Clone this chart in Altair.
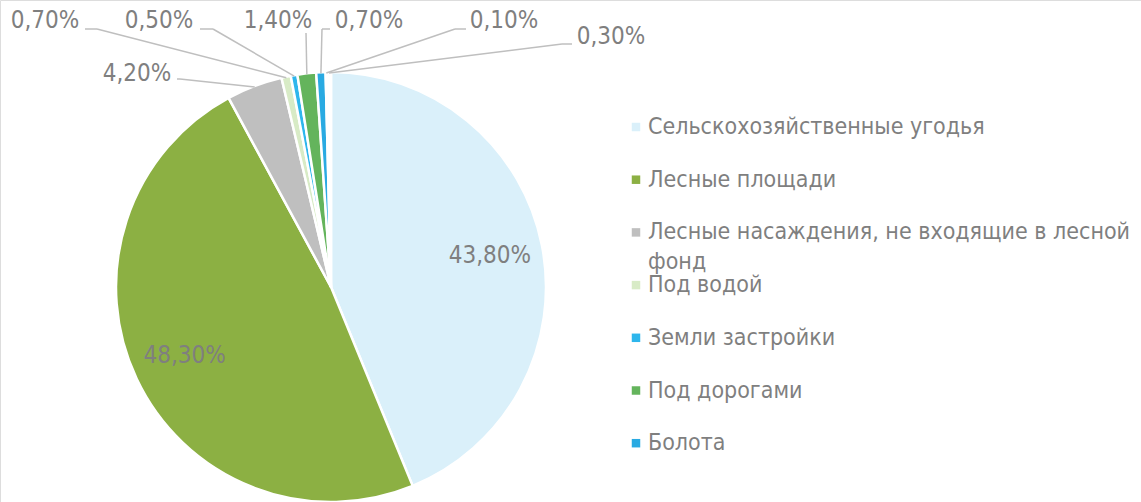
import math
import altair as alt
import pandas as pd

# ---------------- data ----------------
categories = [
    "Сельскохозяйственные угодья",
    "Лесные площади",
    "Лесные насаждения, не входящие в лесной фонд",
    "Под водой",
    "Земли застройки",
    "Под дорогами",
    "Болота",
    "Прочие земли",
    "Нарушенные земли",
]
values = [43.8, 48.3, 4.2, 0.7, 0.5, 1.4, 0.7, 0.1, 0.3]
colors = ["#DAF0FA", "#8CB043", "#BFBFBF", "#D8EBC6", "#2EB6EC",
          "#64B45C", "#29AAE2", "#FFFFFF", "#FFFFFF"]
legend_labels = [
    "Сельскохозяйственные угодья",
    "Лесные площади",
    "Лесные насаждения, не входящие в лесной\nфонд",
    "Под водой",
    "Земли застройки",
    "Под дорогами",
    "Болота",
]

# ---------------- layout ----------------
W, H = 1141, 502
CX, CY, R = 331, 287, 215
FONT = "DejaVu Sans Condensed, DejaVu Sans"
TXT = "#7F7F7F"
LINE = "#BFBFBF"

# outside labels (slice index -> label centre, leader start, elbow x)
outer_idx = [2, 3, 4, 5, 6, 7, 8]
outer_lx = [137, 45, 159, 278, 369, 504, 611]
outer_ly = [74, 21, 21, 21, 21, 21, 37]
outer_sx = [177, 85, 200, 306, 330, 466, 572]
outer_sy = [79, 29, 29, 33, 29, 29, 44]
outer_ex = [180, 97, 213, 306, 322, 455, 562]

legend_x = 636
legend_y0, legend_dy, legend_lh = 127, 52.7, 30


def fmt(v):
    return f"{v:.2f}%".replace(".", ",")


df = pd.DataFrame({
    "category": categories,
    "value": values,
    "order": list(range(len(values))),
})
df["inner"] = [fmt(v) if v > 10 else "" for v in values]

color_scale = alt.Scale(domain=categories, range=colors)

base = alt.Chart(df).encode(
    theta=alt.Theta("value:Q", stack=True),
    order=alt.Order("order:Q"),
    color=alt.Color("category:N", scale=color_scale, legend=None),
)

pie = base.mark_arc(outerRadius=R, stroke="white", strokeWidth=2.5).encode(
    x=alt.value(CX), y=alt.value(CY)
)
inner_text = base.mark_text(
    radius=162, font=FONT, fontSize=24, color=TXT
).encode(text="inner:N", x=alt.value(CX), y=alt.value(CY),
         color=alt.value(TXT))

# leader lines / outer labels, computed from slice mid angles
total = sum(values)
cum = [sum(values[:i]) for i in range(len(values))]
rows_lab, rows_seg = [], []
for k, i in enumerate(outer_idx):
    mid = (cum[i] + values[i] / 2) / total * 2 * math.pi
    px = CX + (R - 1) * math.sin(mid)
    py = CY - (R - 1) * math.cos(mid)
    rows_lab.append({"x": outer_lx[k], "y": outer_ly[k], "t": fmt(values[i])})
    rows_seg.append({"x": outer_sx[k], "y": outer_sy[k],
                     "x2": outer_ex[k], "y2": outer_sy[k]})
    rows_seg.append({"x": outer_ex[k], "y": outer_sy[k], "x2": px, "y2": py})

seg_df = pd.DataFrame(rows_seg)
lab_df = pd.DataFrame(rows_lab)

leaders = alt.Chart(seg_df).mark_rule(color=LINE, strokeWidth=1.5).encode(
    x=alt.X("x:Q", scale=None), y=alt.Y("y:Q", scale=None),
    x2="x2:Q", y2="y2:Q",
)
outer_text = alt.Chart(lab_df).mark_text(
    font=FONT, fontSize=24, color=TXT, align="center", baseline="middle"
).encode(x=alt.X("x:Q", scale=None), y=alt.Y("y:Q", scale=None), text="t:N")

# custom legend
leg_sq, leg_tx = [], []
for j, lab in enumerate(legend_labels):
    yy = legend_y0 + j * legend_dy
    leg_sq.append({"x": legend_x, "y": yy, "category": categories[j]})
    for m, line in enumerate(lab.split("\n")):
        leg_tx.append({"x": legend_x + 12, "y": yy + m * legend_lh, "t": line})

legend_sq = alt.Chart(pd.DataFrame(leg_sq)).mark_square(
    size=72, opacity=1
).encode(
    x=alt.X("x:Q", scale=None), y=alt.Y("y:Q", scale=None),
    color=alt.Color("category:N", scale=color_scale, legend=None),
)
legend_tx = alt.Chart(pd.DataFrame(leg_tx)).mark_text(
    font=FONT, fontSize=23, color=TXT, align="left", baseline="middle"
).encode(x=alt.X("x:Q", scale=None), y=alt.Y("y:Q", scale=None), text="t:N")

chart = alt.layer(
    pie, inner_text, leaders, outer_text, legend_sq, legend_tx
).properties(
    width=W, height=H,
    autosize=alt.AutoSizeParams(type="none"),
    padding=0,
).configure_view(stroke=None).configure(background="white")

chart.save("out.html", embed_options={"renderer": "svg", "actions": False})
